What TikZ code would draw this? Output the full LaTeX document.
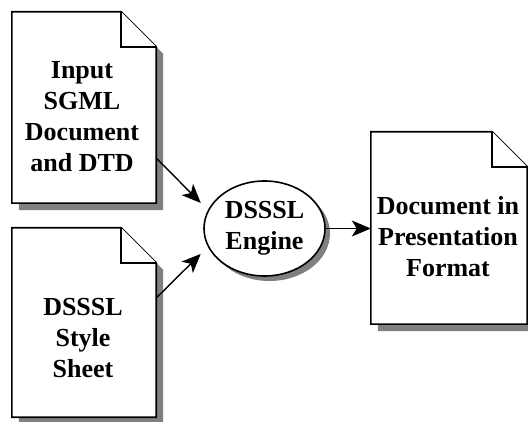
\documentclass[tikz,border=0pt]{standalone}
\usepackage{fontspec}
\setmainfont{Liberation Serif}
\usetikzlibrary{arrows.meta,shapes.geometric,shadows}
\definecolor{shadowgray}{RGB}{128,128,128}
\newcommand\foldpage[1]{%
  \fill[shadowfill] ([shift={(7pt,-7pt)}]#1.south west) -- ([shift={(7pt,-7pt)}]#1.north west)
    -- ([shift={(-28pt,-7pt)}]#1.north east) -- ([shift={(7pt,-42pt)}]#1.north east)
    -- ([shift={(7pt,-7pt)}]#1.south east) -- cycle;
  \filldraw[pageline] (#1.south west) -- (#1.north west) -- ([xshift=-35pt]#1.north east)
    -- ([yshift=-35pt]#1.north east) -- (#1.south east) -- cycle;
  \draw[pageline] ([xshift=-35pt]#1.north east) -- ([shift={(-35pt,-35pt)}]#1.north east)
    -- ([yshift=-35pt]#1.north east);
}
\begin{document}
\begin{tikzpicture}[x=1pt,y=-1pt,
  pagebox/.style={inner sep=0pt, draw=none},
  pageline/.style={draw=black, fill=white, line width=1.6pt, line join=miter},
  shadowfill/.style={fill=shadowgray},
  label/.style={inner sep=0pt, align=center, font=\bfseries\fontsize{26}{31}\selectfont},
  flow/.style={line width=1.4pt, -{Stealth[length=19pt,width=16pt,inset=5pt]}}]
\useasboundingbox (0,0) rectangle (528,422);
% pages
\node[pagebox, minimum width=144pt, minimum height=191pt] (doc1) at (84,107.5) {};
\node[pagebox, minimum width=144pt, minimum height=189pt] (doc2) at (84,322.5) {};
\node[pagebox, minimum width=156pt, minimum height=192pt] (doc3) at (449,228) {};
\foldpage{doc1}
\foldpage{doc2}
\foldpage{doc3}
% texts
\node[label] (t1) at (82,117) {Input\\SGML\\Document\\and DTD};
\node[label] (t2) at (83,338) {DSSSL\\Style\\Sheet};
\node[label] (t3) at (448,236.5) {Document in\\Presentation\\Format};
% engine
\node[ellipse, draw, line width=1.6pt, fill=white, minimum width=121pt, minimum height=95pt,
  inner sep=0pt, align=center, font=\bfseries\fontsize{26}{31}\selectfont,
  drop shadow={shadow xshift=5pt, shadow yshift=-5pt, fill=shadowgray, opacity=1}]
  (eng) at (264.5,228.5) {DSSSL\\Engine};
% connectors
\draw[flow, shorten >=10pt] ([yshift=-50.5pt]doc1.east) -- (eng.162);
\draw[flow, shorten >=10pt] ([yshift=24.5pt]doc2.east) -- (eng.198);
\draw[flow] (eng.east) -- (eng.east -| doc3.west);
\end{tikzpicture}
\end{document}
